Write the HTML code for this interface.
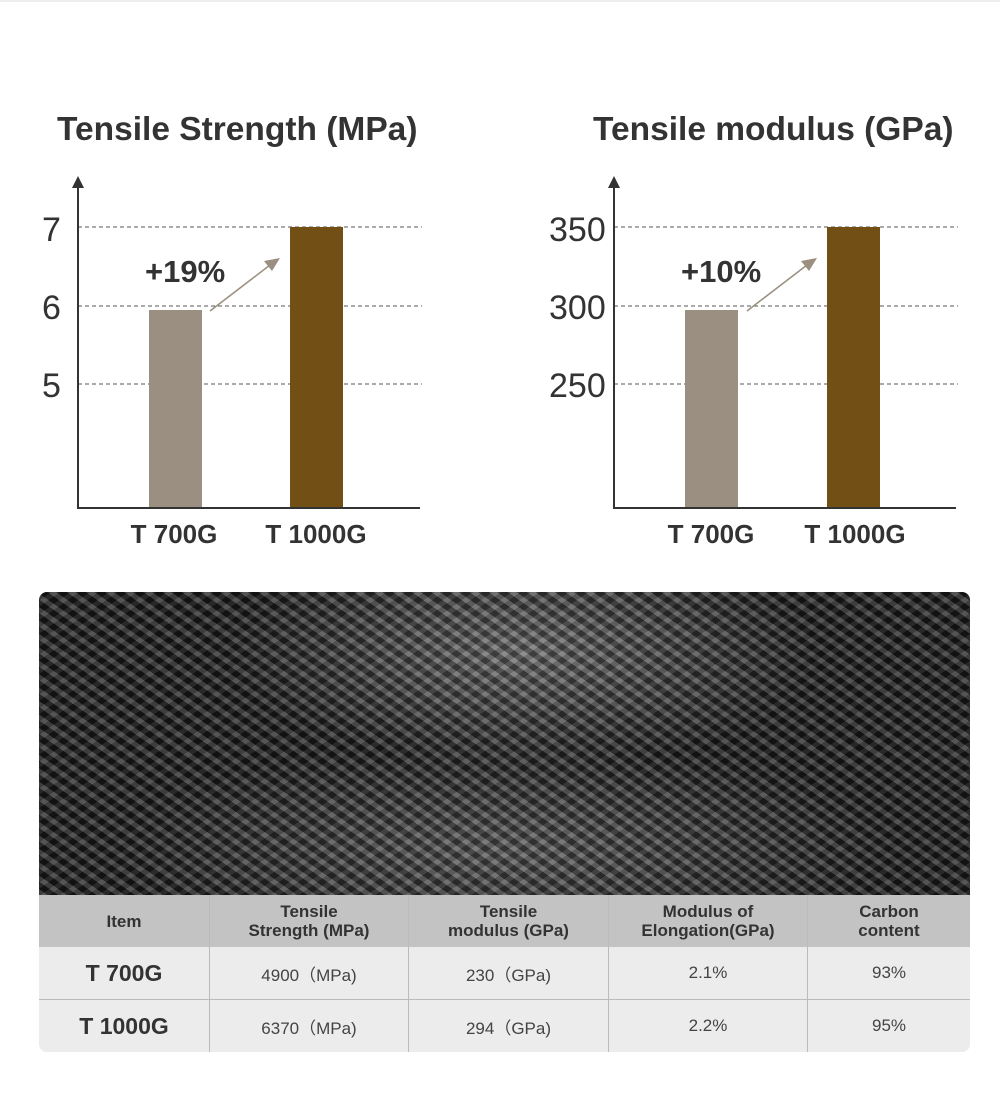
<!DOCTYPE html>
<html><head><style>
body{margin:0;width:1000px;height:1119px;background:#fff;position:relative;overflow:hidden;font-family:"Liberation Sans",sans-serif}
.t{position:absolute;font-weight:bold;color:#333;font-size:33.5px}
.photo{position:absolute;left:39px;top:592px;width:931px;height:303px;border-radius:8px 8px 0 0;overflow:hidden;
background:radial-gradient(ellipse 45% 55% at 52% 20%,rgba(200,200,200,.45),rgba(0,0,0,0) 70%),
radial-gradient(ellipse 60% 50% at 50% 85%,rgba(170,170,170,.4),rgba(0,0,0,0) 70%),#1e1e1e}
.photo:after{content:"";position:absolute;inset:0;
background:repeating-linear-gradient(35deg,rgba(255,255,255,.16) 0 5px,rgba(0,0,0,.25) 5px 11px),
repeating-linear-gradient(-35deg,rgba(255,255,255,.1) 0 5px,rgba(0,0,0,.2) 5px 11px)}
.wrap{position:absolute;left:39px;top:895px;width:931px;height:157px;border-radius:0 0 8px 8px;overflow:hidden;background:#ececec}
table{width:931px;border-collapse:collapse;font-family:"Liberation Sans",sans-serif}
td{text-align:center;color:#333;border-left:1px solid #bbb;padding:0}
td:first-child{border-left:none}
tr.h td{background:#c4c3c3;height:52px;font-weight:bold;font-size:17px;line-height:19px;color:#333}
tr.r td{background:#ececec;height:52px;font-size:17px;color:#444}
tr.r1 td{border-bottom:1px solid #bbb}
tr.r td:first-child{font-weight:bold;font-size:23px;color:#333}
</style></head><body>
<div style="position:absolute;left:0;top:0;width:1000px;height:2px;background:#eee"></div>
<div class="t" style="left:57px;top:111px">Tensile Strength (MPa)</div>
<div class="t" style="left:593px;top:111px">Tensile modulus (GPa)</div>
<svg width="1000" height="560" style="position:absolute;left:0;top:0" font-family="Liberation Sans, sans-serif">
<g stroke="#555" stroke-dasharray="4,3" stroke-width="1">
<line x1="78" y1="227" x2="422" y2="227"/><line x1="78" y1="306" x2="422" y2="306"/><line x1="78" y1="384" x2="422" y2="384"/>
<line x1="614" y1="227" x2="958" y2="227"/><line x1="614" y1="306" x2="958" y2="306"/><line x1="614" y1="384" x2="958" y2="384"/>
</g>
<rect x="149" y="310" width="53" height="198" fill="#9a8f80"/>
<rect x="290" y="227" width="53" height="281" fill="#724f14"/>
<rect x="685" y="310" width="53" height="198" fill="#9a8f80"/>
<rect x="827" y="227" width="53" height="281" fill="#724f14"/>
<g stroke="#333" stroke-width="2" fill="none">
<polyline points="78,185 78,508 420,508"/><polyline points="614,185 614,508 956,508"/></g>
<polygon points="78,176 72,188 84,188" fill="#333"/><polygon points="614,176 608,188 620,188" fill="#333"/>
<g stroke="#9a8f80" stroke-width="1.5"><line x1="210" y1="311" x2="270" y2="265"/><line x1="747" y1="311" x2="807" y2="265"/></g>
<polygon points="280,258 264,261 272,271" fill="#9a8f80"/><polygon points="817,258 801,261 809,271" fill="#9a8f80"/>
<g font-size="34" fill="#333">
<text x="42" y="241">7</text><text x="42" y="319">6</text><text x="42" y="397">5</text>
<text x="549" y="241">350</text><text x="549" y="319">300</text><text x="549" y="397">250</text></g>
<g font-size="31" font-weight="bold" fill="#333">
<text x="145" y="282">+19%</text><text x="681" y="282">+10%</text></g>
<g font-size="26" font-weight="bold" fill="#333" text-anchor="middle">
<text x="174" y="543">T 700G</text><text x="316" y="543">T 1000G</text>
<text x="711" y="543">T 700G</text><text x="855" y="543">T 1000G</text></g>
</svg>
<div class="photo"></div>
<div class="wrap">
<table>
<tr class="h"><td style="width:170px">Item</td><td style="width:198px">Tensile<br>Strength (MPa)</td><td style="width:199px">Tensile<br>modulus (GPa)</td><td style="width:198px">Modulus of<br>Elongation(GPa)</td><td>Carbon<br>content</td></tr>
<tr class="r r1"><td>T 700G</td><td>4900（MPa)</td><td>230（GPa)</td><td>2.1%</td><td>93%</td></tr>
<tr class="r"><td>T 1000G</td><td>6370（MPa)</td><td>294（GPa)</td><td>2.2%</td><td>95%</td></tr>
</table>
</div>
</body></html>
